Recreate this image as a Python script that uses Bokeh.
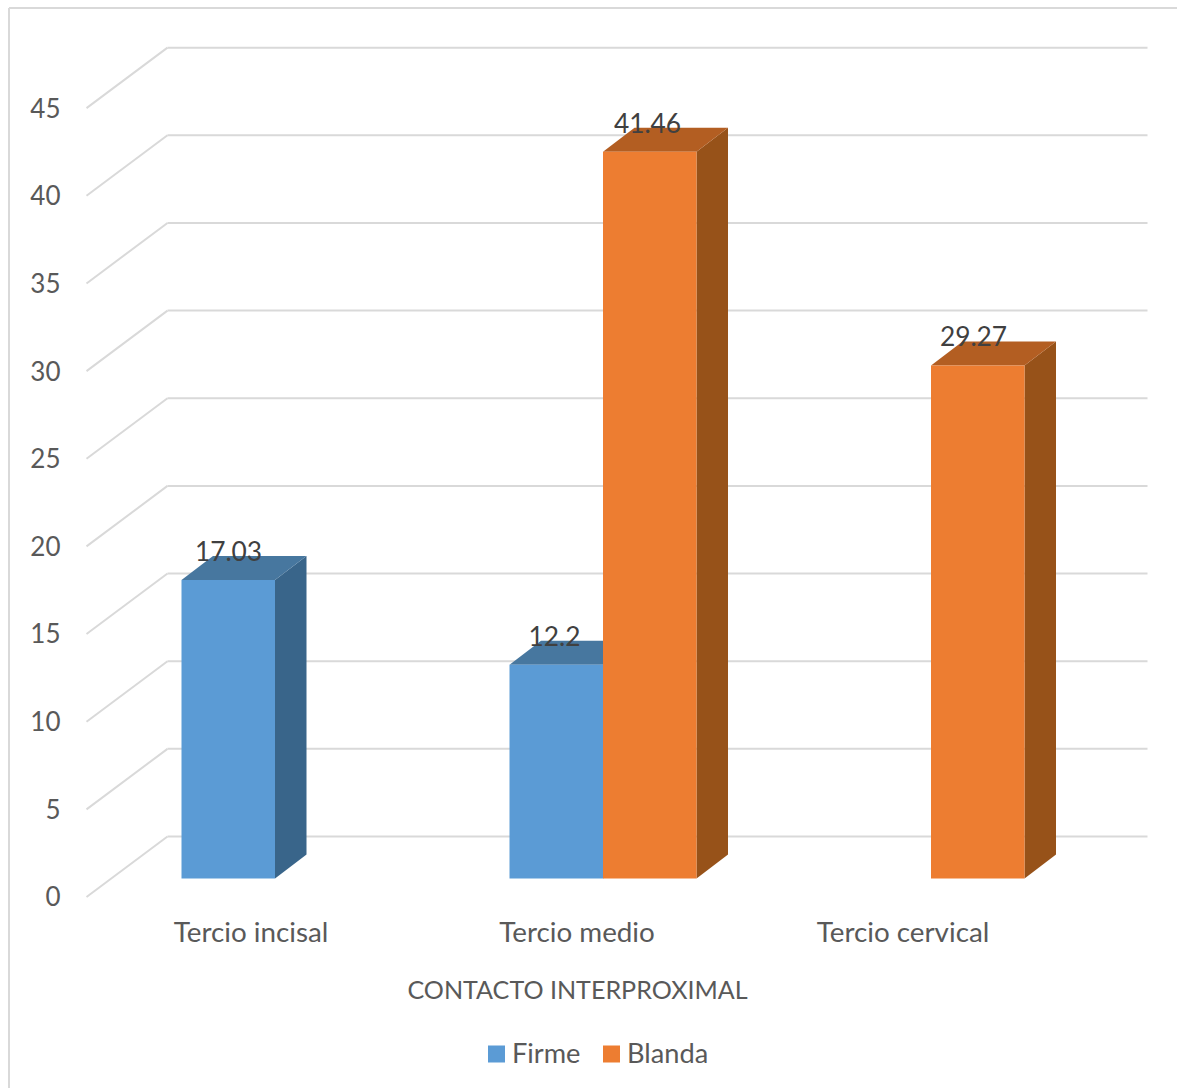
from bokeh.core.properties import value
from bokeh.embed import file_html
from bokeh.models import Range1d
from bokeh.plotting import figure
from bokeh.resources import INLINE

# Chart data
categories = ["Tercio incisal", "Tercio medio", "Tercio cervical"]
firme = [17.03, 12.2, None]
blanda = [None, 41.46, 29.27]
firme_labels = ["17.03", "12.2", None]
blanda_labels = [None, "41.46", "29.27"]
ticks = [0, 5, 10, 15, 20, 25, 30, 35, 40, 45]
axis_title = "CONTACTO INTERPROXIMAL"
series_names = ["Firme", "Blanda"]

# Page geometry
W, H = 1177, 1088
BASE_PX = 878          # pixel row of value 0 on the front plane of the bars
UNIT = 17.53           # pixels per value unit
BAR_W = 93.5
DEPTH_X, DEPTH_Y = 31.5, 24 / UNIT
GROUP_X0, GROUP_STEP = 274.5, 328
LABEL_X0, LABEL_STEP = 228, 326
WALL_LEFT, WALL_RIGHT, FLOOR_X = 167, 1147, 86
WALL_LIFT = (BASE_PX - 836) / UNIT
FLOOR_DROP = (896.5 - BASE_PX) / UNIT
FONT = value("Lato")
GRID = "#D9D9D9"


def v_of(px):
    """Value coordinate of a pixel row."""
    return (BASE_PX - px) / UNIT


p = figure(
    width=W, height=H, output_backend="svg", toolbar_location=None,
    x_range=Range1d(0, W), y_range=Range1d(v_of(H), v_of(0)),
    min_border=0, outline_line_color=None,
)
p.axis.visible = False
p.grid.visible = False
p.background_fill_color = "white"

# Outer chart frame
p.segment([8.5, 8.5], [v_of(7.5), v_of(7.5)], [W, 8.5], [v_of(7.5), v_of(H)],
          line_color=GRID, line_width=2)

# Back wall gridlines with their slanted run down to the value labels
wall = [t + WALL_LIFT for t in ticks]
front = [t - FLOOR_DROP for t in ticks]
p.segment([WALL_LEFT] * len(ticks), wall, [WALL_RIGHT] * len(ticks), wall,
          line_color=GRID, line_width=2)
p.segment([FLOOR_X] * len(ticks), front, [WALL_LEFT] * len(ticks), wall,
          line_color=GRID, line_width=2)


def draw_series(values, offset, face, top, side):
    for i, v in enumerate(values):
        if v is None:
            continue
        x0 = GROUP_X0 + GROUP_STEP * i + offset
        x1 = x0 + BAR_W
        p.patch([x1, x1 + DEPTH_X, x1 + DEPTH_X, x1],
                [0, DEPTH_Y, v + DEPTH_Y, v], fill_color=side, line_color=None)
        p.patch([x0, x1, x1 + DEPTH_X, x0 + DEPTH_X],
                [v, v, v + DEPTH_Y, v + DEPTH_Y], fill_color=top, line_color=None)
        p.quad(left=x0, right=x1, bottom=0, top=v, fill_color=face, line_color=None)


BLUE = ("#5B9BD5", "#47779F", "#39658A")
ORANGE = ("#ED7D31", "#B35E22", "#975219")
draw_series(firme, -BAR_W, *BLUE)
draw_series(blanda, 0, *ORANGE)

# Value labels above each bar
for values, labels, offset in ((firme, firme_labels, 0), (blanda, blanda_labels, 93)):
    for i, v in enumerate(values):
        if v is None:
            continue
        cx = LABEL_X0 + LABEL_STEP * i + offset
        p.text([cx], [v + 29 / UNIT], text=[labels[i]], text_font=FONT,
               text_font_size="26.3px", text_color="#404040",
               text_align="center", text_baseline="middle")

# Value axis labels
p.text([60] * len(ticks), [t - FLOOR_DROP + 0.6 / UNIT for t in ticks],
       text=[str(t) for t in ticks], text_font=FONT,
       text_font_size="26px", text_color="#595959",
       text_align="right", text_baseline="middle")

# Category labels
p.text([250.5, 576.5, 902.5], [v_of(931)] * 3, text=categories, text_font=FONT,
       text_font_size="27.8px", text_color="#595959",
       text_align="center", text_baseline="middle")

# Axis title
p.text([577], [v_of(988)], text=[axis_title], text_font=FONT,
       text_font_size="25.1px", text_color="#595959",
       text_align="center", text_baseline="middle")

# Legend
for x0, name, color in zip((487.5, 602.5), series_names, (BLUE[0], ORANGE[0])):
    p.quad(left=x0, right=x0 + 17, bottom=v_of(1062), top=v_of(1045),
           fill_color=color, line_color=None)
    p.text([x0 + 24], [v_of(1051.5)], text=[name], text_font=FONT,
           text_font_size="27.2px", text_color="#595959",
           text_align="left", text_baseline="middle")

open("out.html", "w").write(file_html(p, INLINE))
